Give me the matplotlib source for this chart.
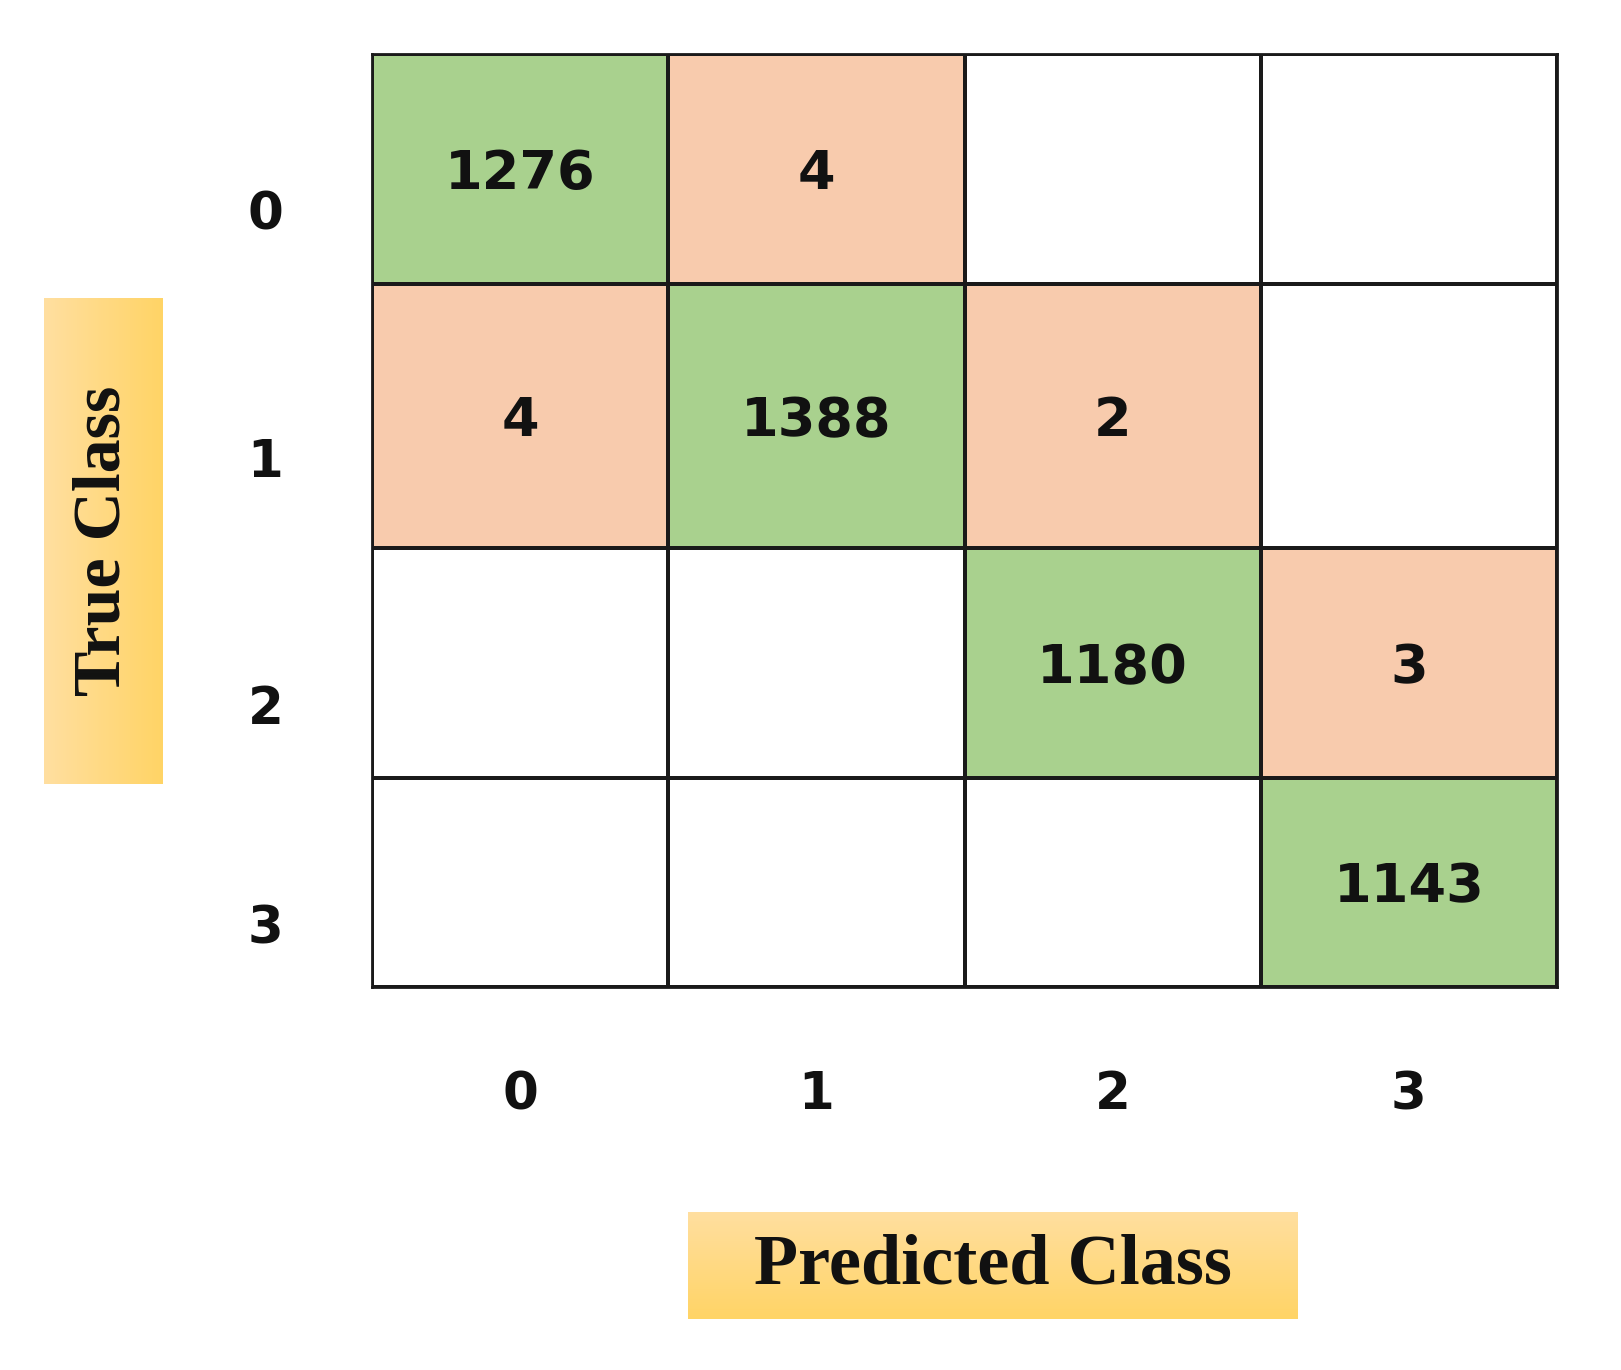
"""Confusion matrix for the 4-class model, drawn as a coloured grid."""
import numpy as np
import matplotlib

matplotlib.use("Agg")
import matplotlib.pyplot as plt
from matplotlib.colors import ListedColormap, LinearSegmentedColormap
from matplotlib.transforms import ScaledTranslation

classes = ["0", "1", "2", "3"]
counts = np.array([
    [1276, 4, 0, 0],
    [4, 1388, 2, 0],
    [0, 0, 1180, 3],
    [0, 0, 0, 1143],
])
# rows in the source image are not the same height
row_heights = [223, 255, 223, 202]

NUM_FONT = "DejaVu Sans"
LABEL_FONT = ["Liberation Serif", "DejaVu Serif"]

fig = plt.figure(figsize=(16.21, 13.70), dpi=100)
ax = fig.add_axes([0.2296, 0.2796, 0.7309, 0.6810])

# 0 = empty, 1 = misclassified, 2 = correct
kind = np.where(counts > 0, 1, 0)
kind[np.diag_indices_from(kind)] = 2
cmap = ListedColormap(["#ffffff", "#f8cbad", "#a9d18e"])

x_edges = np.arange(len(classes) + 1)
y_edges = np.concatenate([[0], np.cumsum(row_heights)])
ax.pcolormesh(x_edges, y_edges, kind, cmap=cmap, vmin=-0.5, vmax=2.5,
              edgecolors="#1a1a1a", linewidth=1.6)
ax.set_xlim(0, len(classes))
ax.set_ylim(y_edges[-1], 0)

x_mid = x_edges[:-1] + 0.5
y_mid = (y_edges[:-1] + y_edges[1:]) / 2
shift = ScaledTranslation(0, -0.05, fig.dpi_scale_trans)
for i in range(len(classes)):
    for j in range(len(classes)):
        if counts[i, j]:
            ax.text(x_mid[j], y_mid[i], str(counts[i, j]), ha="center", va="center",
                    fontsize=39, fontweight="bold", color="#111111", family=NUM_FONT,
                    transform=ax.transData + shift)

for s in ax.spines.values():
    s.set_linewidth(2)
    s.set_color("#1a1a1a")

ax.set_xticks(x_mid)
ax.set_xticklabels(classes)
ax.set_yticks(y_mid)
ax.set_yticklabels(classes)
ax.tick_params(length=0, labelsize=37, pad=60, colors="#111111")
ax.tick_params(axis="y", pad=64)
for lab in ax.get_xticklabels() + ax.get_yticklabels():
    lab.set_family(NUM_FONT)
    lab.set_fontweight("bold")
for lab in ax.get_yticklabels():
    lab.set_transform(lab.get_transform() + ScaledTranslation(0, -0.41, fig.dpi_scale_trans))

# orange label boxes with a soft gradient
W, H = 1621, 1370
grad = LinearSegmentedColormap.from_list("box", ["#ffdfa0", "#ffd466"])


def label_box(x0, y0, x1, y1, text, rotation, horizontal, size):
    bax = fig.add_axes([x0 / W, 1 - y1 / H, (x1 - x0) / W, (y1 - y0) / H])
    g = np.linspace(0, 1, 200)
    img = g[None, :] if horizontal else g[:, None]
    bax.imshow(img, cmap=grad, aspect="auto", extent=[0, 1, 0, 1] if horizontal else [0, 1, 1, 0])
    bax.set_axis_off()
    bax.text(0.5, 0.5, text, transform=bax.transAxes, ha="center", va="center",
             rotation=rotation, fontsize=size, fontweight="bold", color="#111111",
             family=LABEL_FONT)


label_box(44, 298, 163, 784, "True Class", 90, True, 49)
label_box(688, 1212, 1298, 1319, "Predicted Class", 0, False, 52)

fig.savefig("out.png", dpi=100)
